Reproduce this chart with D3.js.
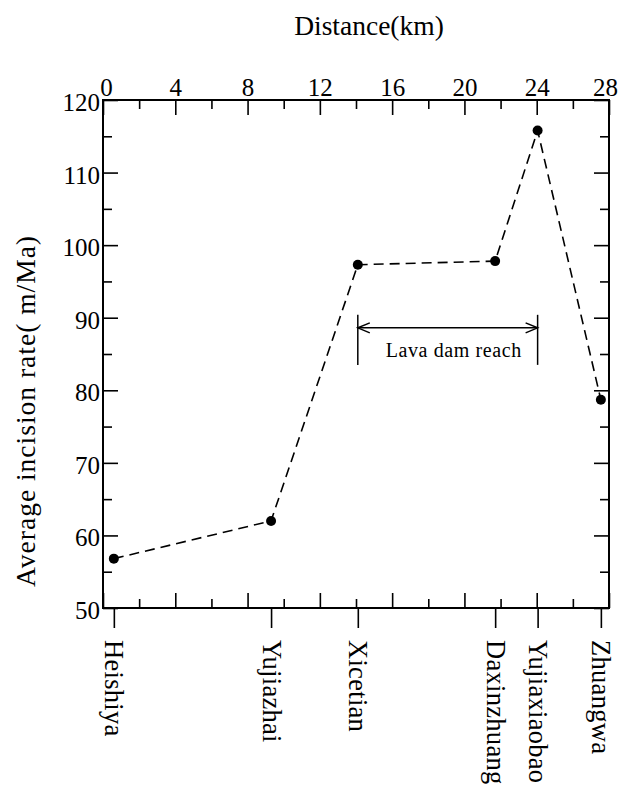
<!DOCTYPE html>
<html>
<head>
<meta charset="utf-8">
<script src="https://cdn.jsdelivr.net/npm/d3@7"></script>
<style>
  html, body { margin: 0; padding: 0; background: #fff; }
  svg { display: block; }
  text { font-family: "Liberation Serif", "Times New Roman", serif; fill: #000; }
</style>
</head>
<body>
<svg id="chart" width="619" height="792"></svg>
<script>
// ---- data ----
const stations = ["Heishiya", "Yujiazhai", "Xicetian", "Daxinzhuang", "Yujiaxiaobao", "Zhuangwa"];
const distanceKm = [0.6, 9.3, 14.1, 21.7, 24.05, 27.55];
const incisionRate = [56.8, 62.0, 97.3, 97.8, 115.8, 78.7];
const xTicks = [0, 4, 8, 12, 16, 20, 24, 28];
const xMinorTicks = [2, 6, 10, 14, 18, 22, 26];
const yTicks = [50, 60, 70, 80, 90, 100, 110, 120];
const yMinorTicks = [55, 65, 75, 85, 95, 105, 115];
const reachStart = 14.1, reachEnd = 24.05;          // Lava dam reach (km)
const reachTop = 90.4, reachArrow = 88.6, reachBottom = 83.5, reachText = 84.6;
const reachLabel = "Lava dam reach";
const xTitle = "Distance(km)";
const yTitle = "Average incision rate( m/Ma)";

// ---- layout ----
const L = 103, R = 609, T = 100, B = 608;
const svg = d3.select("#chart");
const x = d3.scaleLinear().domain([0, 28]).range([L, R]);
const y = d3.scaleLinear().domain([50, 120]).range([B, T]);

const MAJ = 15, MIN = 9;
const TICK_FS = 25;

function styleAxis(g) {
  g.select(".domain").remove();
  g.selectAll(".tick line").attr("stroke", "#000").attr("stroke-width", 1.6);
}

// top axis (labels)
svg.append("g").attr("transform", `translate(0,${T})`)
  .call(d3.axisTop(x).tickValues(xTicks).tickSizeInner(-MAJ).tickSizeOuter(0).tickPadding(4).tickFormat(d3.format("d")))
  .call(styleAxis)
  .call(g => g.selectAll("text").attr("font-size", TICK_FS)
    .attr("font-family", "Liberation Serif")
    .attr("dx", d => d === 28 ? -4 : (d === 0 ? 3 : 0)));
svg.append("g").attr("transform", `translate(0,${T})`)
  .call(d3.axisTop(x).tickValues(xMinorTicks).tickSizeInner(-MIN).tickSizeOuter(0).tickFormat(""))
  .call(styleAxis);

// bottom inward ticks
svg.append("g").attr("transform", `translate(0,${B})`)
  .call(d3.axisBottom(x).tickValues(xTicks).tickSizeInner(-MAJ).tickSizeOuter(0).tickFormat(""))
  .call(styleAxis);
svg.append("g").attr("transform", `translate(0,${B})`)
  .call(d3.axisBottom(x).tickValues(xMinorTicks).tickSizeInner(-MIN).tickSizeOuter(0).tickFormat(""))
  .call(styleAxis);

// bottom station axis (outward)
svg.append("g").attr("transform", `translate(0,${B})`)
  .call(d3.axisBottom(x).tickValues(distanceKm).tickSizeInner(20).tickSizeOuter(0).tickPadding(12)
        .tickFormat((d, i) => stations[i]))
  .call(styleAxis)
  .call(g => g.selectAll("text")
    .attr("font-size", 26.5).attr("font-family", "Liberation Serif").attr("letter-spacing", 0.3)
    .attr("text-anchor", "start").attr("dy", null).attr("y", 0)
    .attr("dominant-baseline", "central")
    .attr("transform", "translate(0,32) rotate(90)"));

// left axis (labels)
svg.append("g").attr("transform", `translate(${L},0)`)
  .call(d3.axisLeft(y).tickValues(yTicks).tickSizeInner(-MAJ).tickSizeOuter(0).tickPadding(3))
  .call(styleAxis)
  .call(g => g.selectAll("text").attr("font-size", TICK_FS).attr("dy", "0.42em")
    .attr("font-family", "Liberation Serif"));
svg.append("g").attr("transform", `translate(${L},0)`)
  .call(d3.axisLeft(y).tickValues(yMinorTicks).tickSizeInner(-MIN).tickSizeOuter(0).tickFormat(""))
  .call(styleAxis);

// right axis
svg.append("g").attr("transform", `translate(${R},0)`)
  .call(d3.axisRight(y).tickValues(yTicks).tickSizeInner(-MAJ).tickSizeOuter(0).tickFormat(""))
  .call(styleAxis);
svg.append("g").attr("transform", `translate(${R},0)`)
  .call(d3.axisRight(y).tickValues(yMinorTicks).tickSizeInner(-MIN).tickSizeOuter(0).tickFormat(""))
  .call(styleAxis);

// frame
svg.append("rect").attr("x", L).attr("y", T).attr("width", R - L).attr("height", B - T)
  .attr("fill", "none").attr("stroke", "#000").attr("stroke-width", 2);

// titles
svg.append("text").attr("x", 369).attr("y", 35).attr("text-anchor", "middle")
  .attr("font-size", 27.5).text(xTitle);
svg.append("text").attr("transform", `translate(35,411) rotate(-90)`).attr("text-anchor", "middle")
  .attr("font-size", 27.5).attr("letter-spacing", 1).text(yTitle);

// data line
const pts = distanceKm.map((d, i) => [d, incisionRate[i]]);
svg.append("path").datum(pts)
  .attr("d", d3.line().x(d => x(d[0])).y(d => y(d[1])))
  .attr("fill", "none").attr("stroke", "#000").attr("stroke-width", 1.6)
  .attr("stroke-dasharray", "10,6");
svg.selectAll("circle.pt").data(pts).enter().append("circle")
  .attr("class", "pt").attr("cx", d => x(d[0])).attr("cy", d => y(d[1])).attr("r", 5).attr("fill", "#000");

// lava dam reach annotation
const ann = svg.append("g").attr("stroke", "#000").attr("stroke-width", 1.5).attr("fill", "none");
[reachStart, reachEnd].forEach(k => {
  ann.append("line").attr("x1", x(k)).attr("x2", x(k)).attr("y1", y(reachTop)).attr("y2", y(reachBottom));
});
ann.append("line").attr("x1", x(reachStart)).attr("x2", x(reachEnd)).attr("y1", y(reachArrow)).attr("y2", y(reachArrow));
const ah = 12, aw = 5;
ann.append("path").attr("d", `M${x(reachStart) + ah},${y(reachArrow) - aw} L${x(reachStart)},${y(reachArrow)} L${x(reachStart) + ah},${y(reachArrow) + aw}`);
ann.append("path").attr("d", `M${x(reachEnd) - ah},${y(reachArrow) - aw} L${x(reachEnd)},${y(reachArrow)} L${x(reachEnd) - ah},${y(reachArrow) + aw}`);
svg.append("text").attr("x", (x(reachStart) + x(reachEnd)) / 2 + 6).attr("y", y(reachText))
  .attr("text-anchor", "middle").attr("font-size", 20).attr("letter-spacing", 0.6).text(reachLabel);
</script>
</body>
</html>
